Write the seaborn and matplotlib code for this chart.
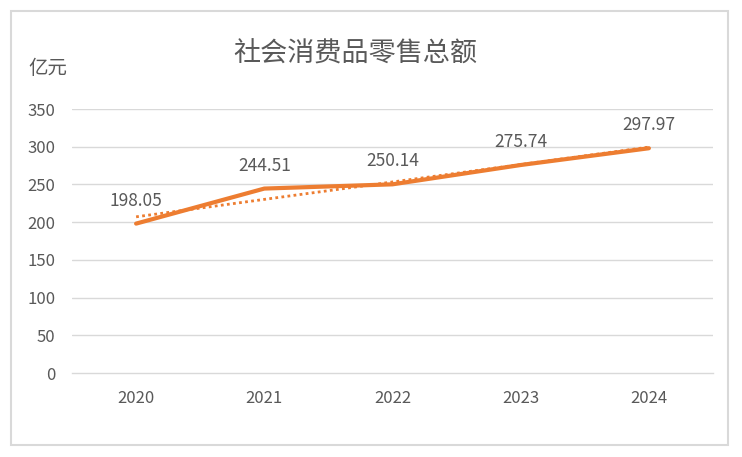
import matplotlib
matplotlib.use("Agg")
import matplotlib.pyplot as plt
import seaborn as sns
import pandas as pd
import numpy as np
from matplotlib.patches import Rectangle

years = ["2020", "2021", "2022", "2023", "2024"]
values = [198.05, 244.51, 250.14, 275.74, 297.97]
title = "社会消费品零售总额"
unit_label = "亿元"
yticks = [0, 50, 100, 150, 200, 250, 300, 350]

sns.set_theme(style="white")
plt.rcParams['font.family'] = ['Noto Sans CJK SC', 'DejaVu Sans']

df = pd.DataFrame({"idx": np.arange(len(years)), "year": years, "value": values})

orange = "#ED7D31"
textc = "#595959"

fig = plt.figure(figsize=(7.42, 4.57), dpi=100)
ax = fig.add_axes([72/742, 1-373/457, (713-72)/742, (373-109)/457])

for y in yticks[1:]:
    ax.axhline(y, color="#D9D9D9", lw=1, zorder=0)

sns.regplot(data=df, x="idx", y="value", ci=None, scatter=False, ax=ax,
            line_kws=dict(color=orange, lw=2, linestyle=(0, (1, 1.2))), truncate=True)
sns.lineplot(data=df, x="idx", y="value", ax=ax, color=orange, lw=3, zorder=3)

for i, v in enumerate(values):
    ax.annotate(f"{v:.2f}", (i, v), xytext=(0, 16.5), textcoords="offset points",
                ha="center", va="center", fontsize=12.5, color=textc)

ax.set_xlim(-0.5, len(years) - 0.5)
ax.set_ylim(0, 350)
ax.set_yticks(yticks)
ax.set_yticklabels([str(t) for t in yticks], fontsize=12, color=textc)
ax.set_xticks(np.arange(len(years)))
ax.set_xticklabels(years, fontsize=12, color=textc)
ax.tick_params(axis="x", length=0, pad=12.5)
ax.tick_params(axis="y", length=0, pad=12)
ax.set_xticks(np.arange(-0.5, len(years)), minor=True)
ax.tick_params(axis="x", which="minor", length=5, color="#D9D9D9", width=1)
ax.set_xlabel("")
ax.set_ylabel("")
for s in ["top", "right", "left"]:
    ax.spines[s].set_visible(False)
ax.spines["bottom"].set_color("#D9D9D9")
ax.spines["bottom"].set_linewidth(1)

fig.text(355/742, 1-54/457, title, ha="center", va="center", fontsize=19.5, color=textc)
fig.text(48/742, 1-68/457, unit_label, ha="center", va="center", fontsize=14, color=textc)

fig.patches.append(Rectangle((11/742, 1-445/457), (728-11)/742, (445-11)/457,
                             transform=fig.transFigure, fill=False, edgecolor="#D9D9D9", lw=1.5))

fig.savefig("out.png", dpi=100)
